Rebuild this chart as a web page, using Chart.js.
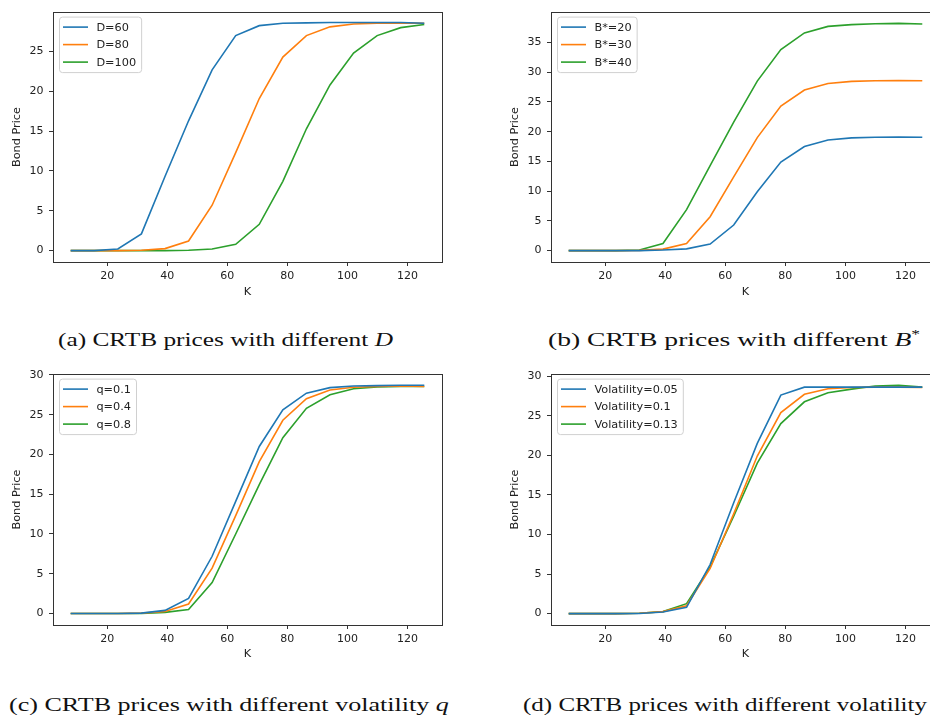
<!DOCTYPE html>
<html>
<head>
<meta charset="utf-8">
<script src="https://cdn.jsdelivr.net/npm/chart.js@4.4.0/dist/chart.umd.min.js"></script>
<style>
  html, body { margin: 0; padding: 0; background: #fff; }
  body { width: 930px; height: 719px; overflow: hidden; position: relative; }
  canvas { position: absolute; }
  .cap { position: absolute; font-family: "Liberation Serif", serif; font-size: 19px; color: #111; white-space: nowrap; line-height: 24px; transform-origin: 0 50%; }
  .cap i { font-style: italic; }
  .cap sup { font-size: 12px; line-height: 0; vertical-align: 8px; }
</style>
</head>
<body>
<canvas id="chartA" width="460" height="300" style="left:0;top:0"></canvas>
<canvas id="chartB" width="450" height="300" style="left:498px;top:0"></canvas>
<canvas id="chartC" width="460" height="300" style="left:0;top:362px"></canvas>
<canvas id="chartD" width="450" height="300" style="left:498px;top:362px"></canvas>

<div class="cap" data-w="335" style="left:58px;top:328px">(a) CRTB prices with different <i>D</i></div>
<div class="cap" data-w="372" style="left:548px;top:328px">(b) CRTB prices with different <i>B</i><sup>*</sup></div>
<div class="cap" data-w="440" style="left:9px;top:693px">(c) CRTB prices with different volatility <i>q</i></div>
<div class="cap" data-w="404" style="left:523px;top:693px">(d) CRTB prices with different volatility</div>

<script>
// strike values (x axis)
const kValues = [7.85, 15.7, 23.55, 31.4, 39.25, 47.1, 54.95, 62.8, 70.65, 78.5, 86.35, 94.2, 102.05, 109.9, 117.75, 125.6];

// (a) different D
const labelsD = ['D=60', 'D=80', 'D=100'];
const priceD60  = [0, 0, 0.2, 2.1, 9.3, 16.3, 22.7, 27.0, 28.25, 28.55, 28.6, 28.65, 28.65, 28.65, 28.65, 28.55];
const priceD80  = [0, 0, 0, 0.05, 0.25, 1.2, 5.7, 12.3, 19.1, 24.3, 27.0, 28.1, 28.45, 28.55, 28.6, 28.55];
const priceD100 = [0, 0, 0, 0, 0, 0.05, 0.2, 0.8, 3.3, 8.7, 15.3, 20.8, 24.8, 27.0, 28.0, 28.4];

// (b) different B*
const labelsB = ['B*=20', 'B*=30', 'B*=40'];
const priceB20 = [0, 0, 0, 0, 0.1, 0.3, 1.1, 4.3, 9.9, 14.9, 17.5, 18.6, 18.95, 19.05, 19.1, 19.05];
const priceB30 = [0, 0, 0, 0.05, 0.25, 1.2, 5.7, 12.4, 19.0, 24.3, 27.0, 28.1, 28.45, 28.55, 28.6, 28.55];
const priceB40 = [0, 0, 0, 0.1, 1.2, 6.9, 14.3, 21.6, 28.5, 33.8, 36.6, 37.7, 38.0, 38.15, 38.2, 38.1];

// (c) different q
const labelsQ = ['q=0.1', 'q=0.4', 'q=0.8'];
const priceQ01 = [0, 0, 0, 0.05, 0.4, 1.9, 7.2, 14.1, 21.0, 25.6, 27.7, 28.4, 28.6, 28.65, 28.7, 28.7];
const priceQ04 = [0, 0, 0, 0.05, 0.25, 1.2, 5.7, 12.3, 19.1, 24.3, 27.0, 28.1, 28.45, 28.55, 28.6, 28.55];
const priceQ08 = [0, 0, 0, 0.02, 0.15, 0.5, 3.9, 10.0, 16.2, 22.1, 25.8, 27.5, 28.25, 28.5, 28.55, 28.55];

// (d) different volatility
const labelsVol = ['Volatility=0.05', 'Volatility=0.1', 'Volatility=0.13'];
const priceVol005 = [0, 0, 0, 0.02, 0.2, 0.8, 6.2, 14.0, 21.5, 27.6, 28.6, 28.6, 28.6, 28.6, 28.6, 28.6];
const priceVol01  = [0, 0, 0, 0.05, 0.25, 1.0, 5.7, 12.6, 19.9, 25.4, 27.7, 28.4, 28.55, 28.6, 28.6, 28.55];
const priceVol013 = [0, 0, 0, 0.05, 0.25, 1.25, 5.9, 12.3, 19.0, 24.0, 26.75, 27.9, 28.35, 28.75, 28.85, 28.6];

// tick labels
const xTicks = [20, 40, 60, 80, 100, 120];
const yTicksA = [0, 5, 10, 15, 20, 25];
const yTicksB = [0, 5, 10, 15, 20, 25, 30, 35];
const yTicksC = [0, 5, 10, 15, 20, 25, 30];

const colors = ['#1f77b4', '#ff7f0e', '#2ca02c'];
const axisColor = '#333';
const textColor = '#222';

// stretch the captions to the width of the LaTeX ones
document.querySelectorAll('.cap').forEach(el => {
  const w = el.getBoundingClientRect().width;
  el.style.transform = 'scaleX(' + (Number(el.dataset.w) / w).toFixed(3) + ')';
});

// full box around the plot, like matplotlib spines
const frame = {
  id: 'frame',
  afterDatasetsDraw(chart) {
    const a = chart.chartArea, ctx = chart.ctx;
    ctx.save();
    ctx.strokeStyle = axisColor;
    ctx.lineWidth = 1;
    ctx.strokeRect(Math.round(a.left) + 0.5, Math.round(a.top) + 0.5,
      Math.round(a.right - a.left), Math.round(a.bottom - a.top));
    ctx.restore();
  }
};

// legend drawn inside the plot, upper left
const insideLegend = {
  id: 'insideLegend',
  afterDraw(chart) {
    const ctx = chart.ctx, a = chart.chartArea;
    const sets = chart.data.datasets;
    ctx.save();
    ctx.font = '11.3px "DejaVu Sans"';
    const textW = Math.max(...sets.map(d => ctx.measureText(d.label).width));
    const x = a.left + 6.5, y = a.top + 5, rowH = 17.5;
    const w = 3.5 + 25 + 8.4 + textW + 5.5;
    const h = 10 + rowH * (sets.length - 1) + 10.5;
    const r = 3;
    ctx.beginPath();
    ctx.moveTo(x + r, y);
    ctx.lineTo(x + w - r, y);
    ctx.arcTo(x + w, y, x + w, y + r, r);
    ctx.lineTo(x + w, y + h - r);
    ctx.arcTo(x + w, y + h, x + w - r, y + h, r);
    ctx.lineTo(x + r, y + h);
    ctx.arcTo(x, y + h, x, y + h - r, r);
    ctx.lineTo(x, y + r);
    ctx.arcTo(x, y, x + r, y, r);
    ctx.closePath();
    ctx.fillStyle = 'rgba(255,255,255,0.8)';
    ctx.fill();
    ctx.strokeStyle = '#d0d0d0';
    ctx.lineWidth = 1;
    ctx.stroke();
    sets.forEach((d, i) => {
      const cy = y + 10 + i * rowH;
      ctx.strokeStyle = d.borderColor;
      ctx.lineWidth = 1.6;
      ctx.beginPath();
      ctx.moveTo(x + 3.5, cy);
      ctx.lineTo(x + 28.5, cy);
      ctx.stroke();
      ctx.fillStyle = textColor;
      ctx.textBaseline = 'middle';
      ctx.textAlign = 'left';
      ctx.fillText(d.label, x + 36.9, cy + 0.5);
    });
    ctx.restore();
  }
};

function makeChart(id, labels, series, yMin, yMax, yTicks, pad, xHeight) {
  const datasets = series.map((vals, i) => ({
    label: labels[i],
    data: vals.map((v, j) => ({x: kValues[j], y: v})),
    borderColor: colors[i],
    backgroundColor: colors[i],
    borderWidth: 1.6,
    pointRadius: 0,
    tension: 0,
    fill: false
  }));
  const tickFont = {family: '"DejaVu Sans"', size: 11};
  return new Chart(document.getElementById(id), {
    type: 'line',
    data: {datasets: datasets},
    options: {
      responsive: false,
      animation: false,
      layout: {padding: pad},
      plugins: {legend: {display: false}, tooltip: {enabled: false}},
      scales: {
        x: {
          type: 'linear',
          min: 1.96,
          max: 131.5,
          afterBuildTicks: s => { s.ticks = xTicks.map(v => ({value: v})); },
          afterFit: s => { s.height = xHeight; },
          ticks: {color: textColor, font: tickFont, padding: 4, maxRotation: 0},
          grid: {drawOnChartArea: false, drawTicks: true, tickLength: 4, color: axisColor},
          border: {display: false},
          title: {display: true, text: 'K', color: textColor, font: {family: '"DejaVu Sans"', size: 11.3}, padding: {top: 0, bottom: 1}}
        },
        y: {
          min: yMin,
          max: yMax,
          afterBuildTicks: s => { s.ticks = yTicks.map(v => ({value: v})); },
          afterFit: s => { s.width = 53; },
          ticks: {color: textColor, font: tickFont, padding: 5.5},
          grid: {drawOnChartArea: false, drawTicks: true, tickLength: 4, color: axisColor},
          border: {display: false},
          title: {display: true, text: 'Bond Price', color: textColor, font: {family: '"DejaVu Sans"', size: 11.3}, padding: {top: 10, bottom: 0}}
        }
      }
    },
    plugins: [frame, insideLegend]
  });
}

makeChart('chartA', labelsD, [priceD60, priceD80, priceD100], -1.43, 29.95, yTicksA,
  {top: 10, right: 18, left: 0, bottom: 0}, 38);
makeChart('chartB', labelsB, [priceB20, priceB30, priceB40], -1.91, 40.1, yTicksB,
  {top: 9, right: 8, left: 0, bottom: 0}, 38);
makeChart('chartC', labelsQ, [priceQ01, priceQ04, priceQ08], -1.44, 30.1, yTicksC,
  {top: 10, right: 18, left: 0, bottom: 0}, 37);
makeChart('chartD', labelsVol, [priceVol005, priceVol01, priceVol013], -1.44, 30.25, yTicksC,
  {top: 10, right: 8, left: 0, bottom: 0}, 37);
</script>
</body>
</html>
